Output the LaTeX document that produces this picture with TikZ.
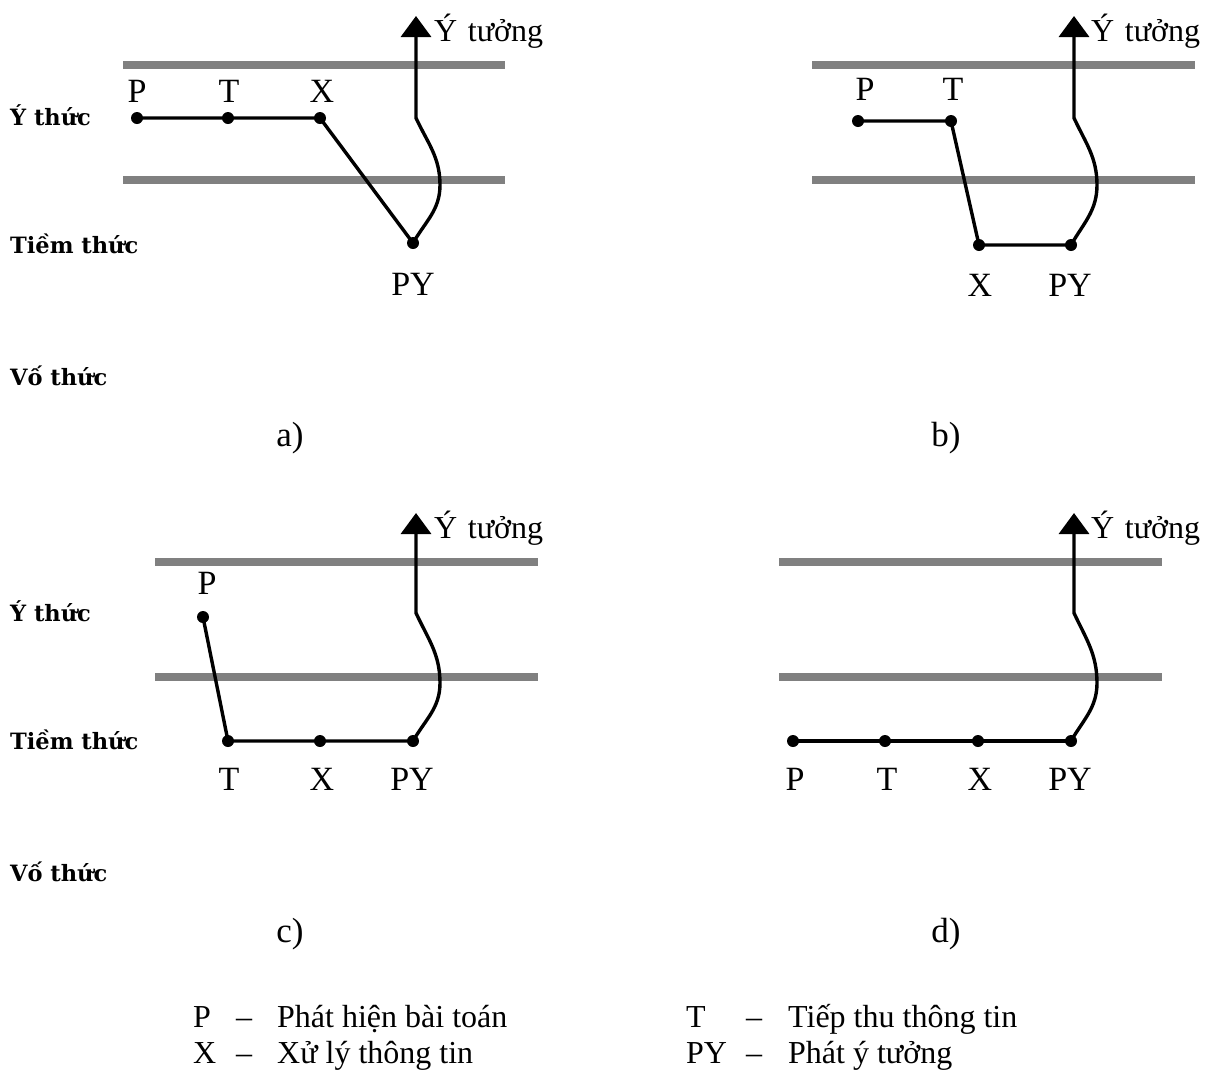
\documentclass[tikz,border=0pt]{standalone}
\usepackage{fontspec}
\setmainfont{Liberation Serif}
\newfontfamily\lblfont{DejaVu Serif}
\usetikzlibrary{arrows.meta}
\definecolor{barcol}{RGB}{128,128,128}
\begin{document}
\begin{tikzpicture}[x=1pt,y=-1pt,
  bar/.style={draw=barcol,line width=8pt},
  link/.style={line width=3.4pt,line join=round},
  dot/.style={circle,fill=black,inner sep=0pt,minimum size=12pt},
  lbl/.style={font=\fontsize{34}{40}\selectfont,inner sep=0pt,anchor=base},
  side/.style={font=\lblfont\bfseries\fontsize{22.5}{27}\selectfont,anchor=base west,inner sep=0pt},
  idea/.style={font=\fontsize{32}{38}\selectfont,anchor=base west,inner sep=0pt},
  capt/.style={font=\fontsize{35}{40}\selectfont,inner sep=0pt,anchor=base},
  leg/.style={font=\fontsize{32}{36}\selectfont,inner sep=0pt,anchor=base west},
  up/.style={link,-{Triangle[width=30pt,length=21pt]}}
]
\useasboundingbox[fill=white] (0,0) rectangle (1208,1072);

% ---------- side labels ----------
\node[side] (s1) at (10,125) {Ý thức};
\node[side] (s2) at (10,253) {Tiềm thức};
\node[side] (s3) at (10,385) {Vố thức};
\node[side] (s4) at (10,621) {Ý thức};
\node[side] (s5) at (10,749) {Tiềm thức};
\node[side] (s6) at (10,881) {Vố thức};

% ---------- panel a ----------
\draw[bar] (123,65) -- (505,65);
\draw[bar] (123,180) -- (505,180);
\node[dot] (aP) at (137,118) {};
\node[dot] (aT) at (228,118) {};
\node[dot] (aX) at (320,118) {};
\node[dot] (aPY) at (413,243) {};
\coordinate (aK) at (416,118);
\coordinate (aTop) at (416,16);
\node[lbl] (laP) at (137,102) {P};
\node[lbl] (laT) at (229,102) {T};
\node[lbl] (laX) at (322,102) {X};
\node[lbl] (laPY) at (413,295) {PY};
\node[idea] (aIdea) at (434,41) {Ý\,\,tưởng};
\draw[link] (aP.center) -- (aT.center) -- (aX.center) -- (aPY.center);
\draw[up] (aPY.center) to[out=60,in=-90] (440,185) to[out=90,in=-65] (aK) -- (aTop);
\node[capt] (ca) at (290,446) {a)};

% ---------- panel b ----------
\draw[bar] (812,65) -- (1195,65);
\draw[bar] (812,180) -- (1195,180);
\node[dot] (bP) at (858,121) {};
\node[dot] (bT) at (951,121) {};
\node[dot] (bX) at (979,245) {};
\node[dot] (bPY) at (1071,245) {};
\coordinate (bK) at (1074,118);
\coordinate (bTop) at (1074,16);
\node[lbl] (lbP) at (865,100) {P};
\node[lbl] (lbT) at (953,100) {T};
\node[lbl] (lbX) at (980,296) {X};
\node[lbl] (lbPY) at (1070,296) {PY};
\node[idea] (bIdea) at (1091,41) {Ý\,\,tưởng};
\draw[link] (bP.center) -- (bT.center) -- (bX.center) -- (bPY.center);
\draw[up] (bPY.center) to[out=60,in=-90] (1097,185) to[out=90,in=-65] (bK) -- (bTop);
\node[capt] (cb) at (946,446) {b)};

% ---------- panel c ----------
\draw[bar] (155,562) -- (538,562);
\draw[bar] (155,677) -- (538,677);
\node[dot] (cP) at (203,617) {};
\node[dot] (cT) at (228,741) {};
\node[dot] (cX) at (320,741) {};
\node[dot] (cPY) at (413,741) {};
\coordinate (cK) at (416,613);
\coordinate (cTop) at (416,513);
\node[lbl] (lcP) at (207,594) {P};
\node[lbl] (lcT) at (229,790) {T};
\node[lbl] (lcX) at (322,790) {X};
\node[lbl] (lcPY) at (412,790) {PY};
\node[idea] (cIdea) at (434,538) {Ý\,\,tưởng};
\draw[link] (cP.center) -- (cT.center) -- (cX.center) -- (cPY.center);
\draw[up] (cPY.center) to[out=60,in=-90] (440,683) to[out=90,in=-65] (cK) -- (cTop);
\node[capt] (cc) at (290,942) {c)};

% ---------- panel d ----------
\draw[bar] (779,562) -- (1162,562);
\draw[bar] (779,677) -- (1162,677);
\node[dot] (dP) at (793,741) {};
\node[dot] (dT) at (885,741) {};
\node[dot] (dX) at (978,741) {};
\node[dot] (dPY) at (1071,741) {};
\coordinate (dK) at (1074,613);
\coordinate (dTop) at (1074,513);
\node[lbl] (ldP) at (795,790) {P};
\node[lbl] (ldT) at (887,790) {T};
\node[lbl] (ldX) at (980,790) {X};
\node[lbl] (ldPY) at (1070,790) {PY};
\node[idea] (dIdea) at (1091,538) {Ý\,\,tưởng};
\draw[link] (dP.center) -- (dT.center) -- (dX.center) -- (dPY.center);
\draw[up] (dPY.center) to[out=60,in=-90] (1097,683) to[out=90,in=-65] (dK) -- (dTop);
\node[capt] (cd) at (946,942) {d)};

% ---------- legend ----------
\node[leg] (g1a) at (193,1027) {P};
\node[leg] (g1b) at (236,1027) {–};
\node[leg] (g1c) at (277,1027) {Phát hiện bài toán};
\node[leg] (g2a) at (193,1063) {X};
\node[leg] (g2b) at (236,1063) {–};
\node[leg] (g2c) at (277,1063) {Xử lý thông tin};
\node[leg] (g3a) at (686,1027) {T};
\node[leg] (g3b) at (746,1027) {–};
\node[leg] (g3c) at (788,1027) {Tiếp thu thông tin};
\node[leg] (g4a) at (686,1063) {PY};
\node[leg] (g4b) at (746,1063) {–};
\node[leg] (g4c) at (788,1063) {Phát ý tưởng};
\end{tikzpicture}
\end{document}
